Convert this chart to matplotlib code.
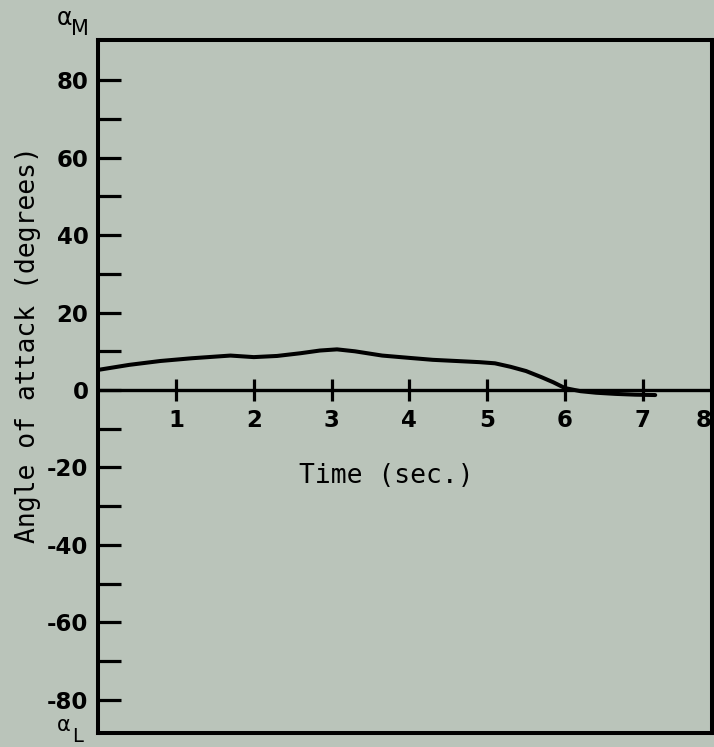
import matplotlib.pyplot as plt

plt.rcParams['axes.unicode_minus'] = False

# angle of attack history
time_s = [0.0, 0.4, 0.8, 1.2, 1.7, 2.0, 2.3, 2.6, 2.85, 3.07, 3.3, 3.65,
          4.0, 4.3, 4.6, 4.9, 5.1, 5.3, 5.5, 5.7, 5.85, 6.0, 6.2, 6.4,
          6.65, 6.9, 7.16]
alpha_deg = [5.2, 6.5, 7.5, 8.2, 8.9, 8.5, 8.8, 9.5, 10.2, 10.5, 10.0, 8.9,
             8.3, 7.8, 7.5, 7.2, 6.9, 6.0, 4.9, 3.3, 2.0, 0.5, -0.3, -0.7,
             -1.0, -1.2, -1.3]

y_major = [-80, -60, -40, -20, 0, 20, 40, 60, 80]
y_minor = [-70, -50, -30, -10, 10, 30, 50, 70]
x_marks = [1, 2, 3, 4, 5, 6, 7, 8]

bg = '#bac4ba'
mono = 'DejaVu Sans Mono'

fig = plt.figure(figsize=(7.14, 7.47), dpi=100, facecolor=bg)
ax = fig.add_axes([0.1375, 0.0187, 0.8597, 0.9277], facecolor=bg)

ax.plot(time_s, alpha_deg, color='black', linewidth=2.9, solid_capstyle='round')

# zero line with its own time ticks
ax.axhline(0, color='black', linewidth=2.4)
for t in x_marks:
    ax.plot([t], [0], marker='|', markersize=16, markeredgewidth=2.3,
            color='black', clip_on=False)
    # last label sits on the frame edge, pull it in so it stays readable
    dx = -12 if t == x_marks[-1] else 0
    ax.annotate(str(t), xy=(t, 0), xytext=(dx, -22), textcoords='offset points',
                ha='center', va='center', fontsize=16.5, fontweight='bold',
                annotation_clip=False)

ax.set_xlim(0, 7.89)
ax.set_ylim(-88.6, 90.4)
ax.set_xticks([])

ax.set_yticks(y_major)
ax.set_yticklabels([str(v) for v in y_major], fontsize=16.5, fontweight='bold')
ax.set_yticks(y_minor, minor=True)
ax.tick_params(axis='y', which='both', direction='in', length=16.5, width=2.3, pad=7)

for s in ax.spines.values():
    s.set_linewidth(2.9)

fig.text(28 / 714, 1 - 345 / 747, 'Angle of attack (degrees)', rotation=90,
         ha='center', va='center', family=mono, fontsize=19)
fig.text(386 / 714, 1 - 476 / 747, 'Time (sec.)', ha='center', va='center',
         family=mono, fontsize=19)

# alpha_M / alpha_L limits at the ends of the vertical scale
fig.text(65 / 714, 1 - 18 / 747, 'α', ha='center', va='center', fontsize=17)
fig.text(80 / 714, 1 - 29 / 747, 'M', ha='center', va='center', fontsize=15)
fig.text(64 / 714, 1 - 725 / 747, 'α', ha='center', va='center', fontsize=15)
fig.text(78 / 714, 1 - 737 / 747, 'L', ha='center', va='center', fontsize=14)

plt.savefig('out.png', dpi=100, facecolor=bg)
